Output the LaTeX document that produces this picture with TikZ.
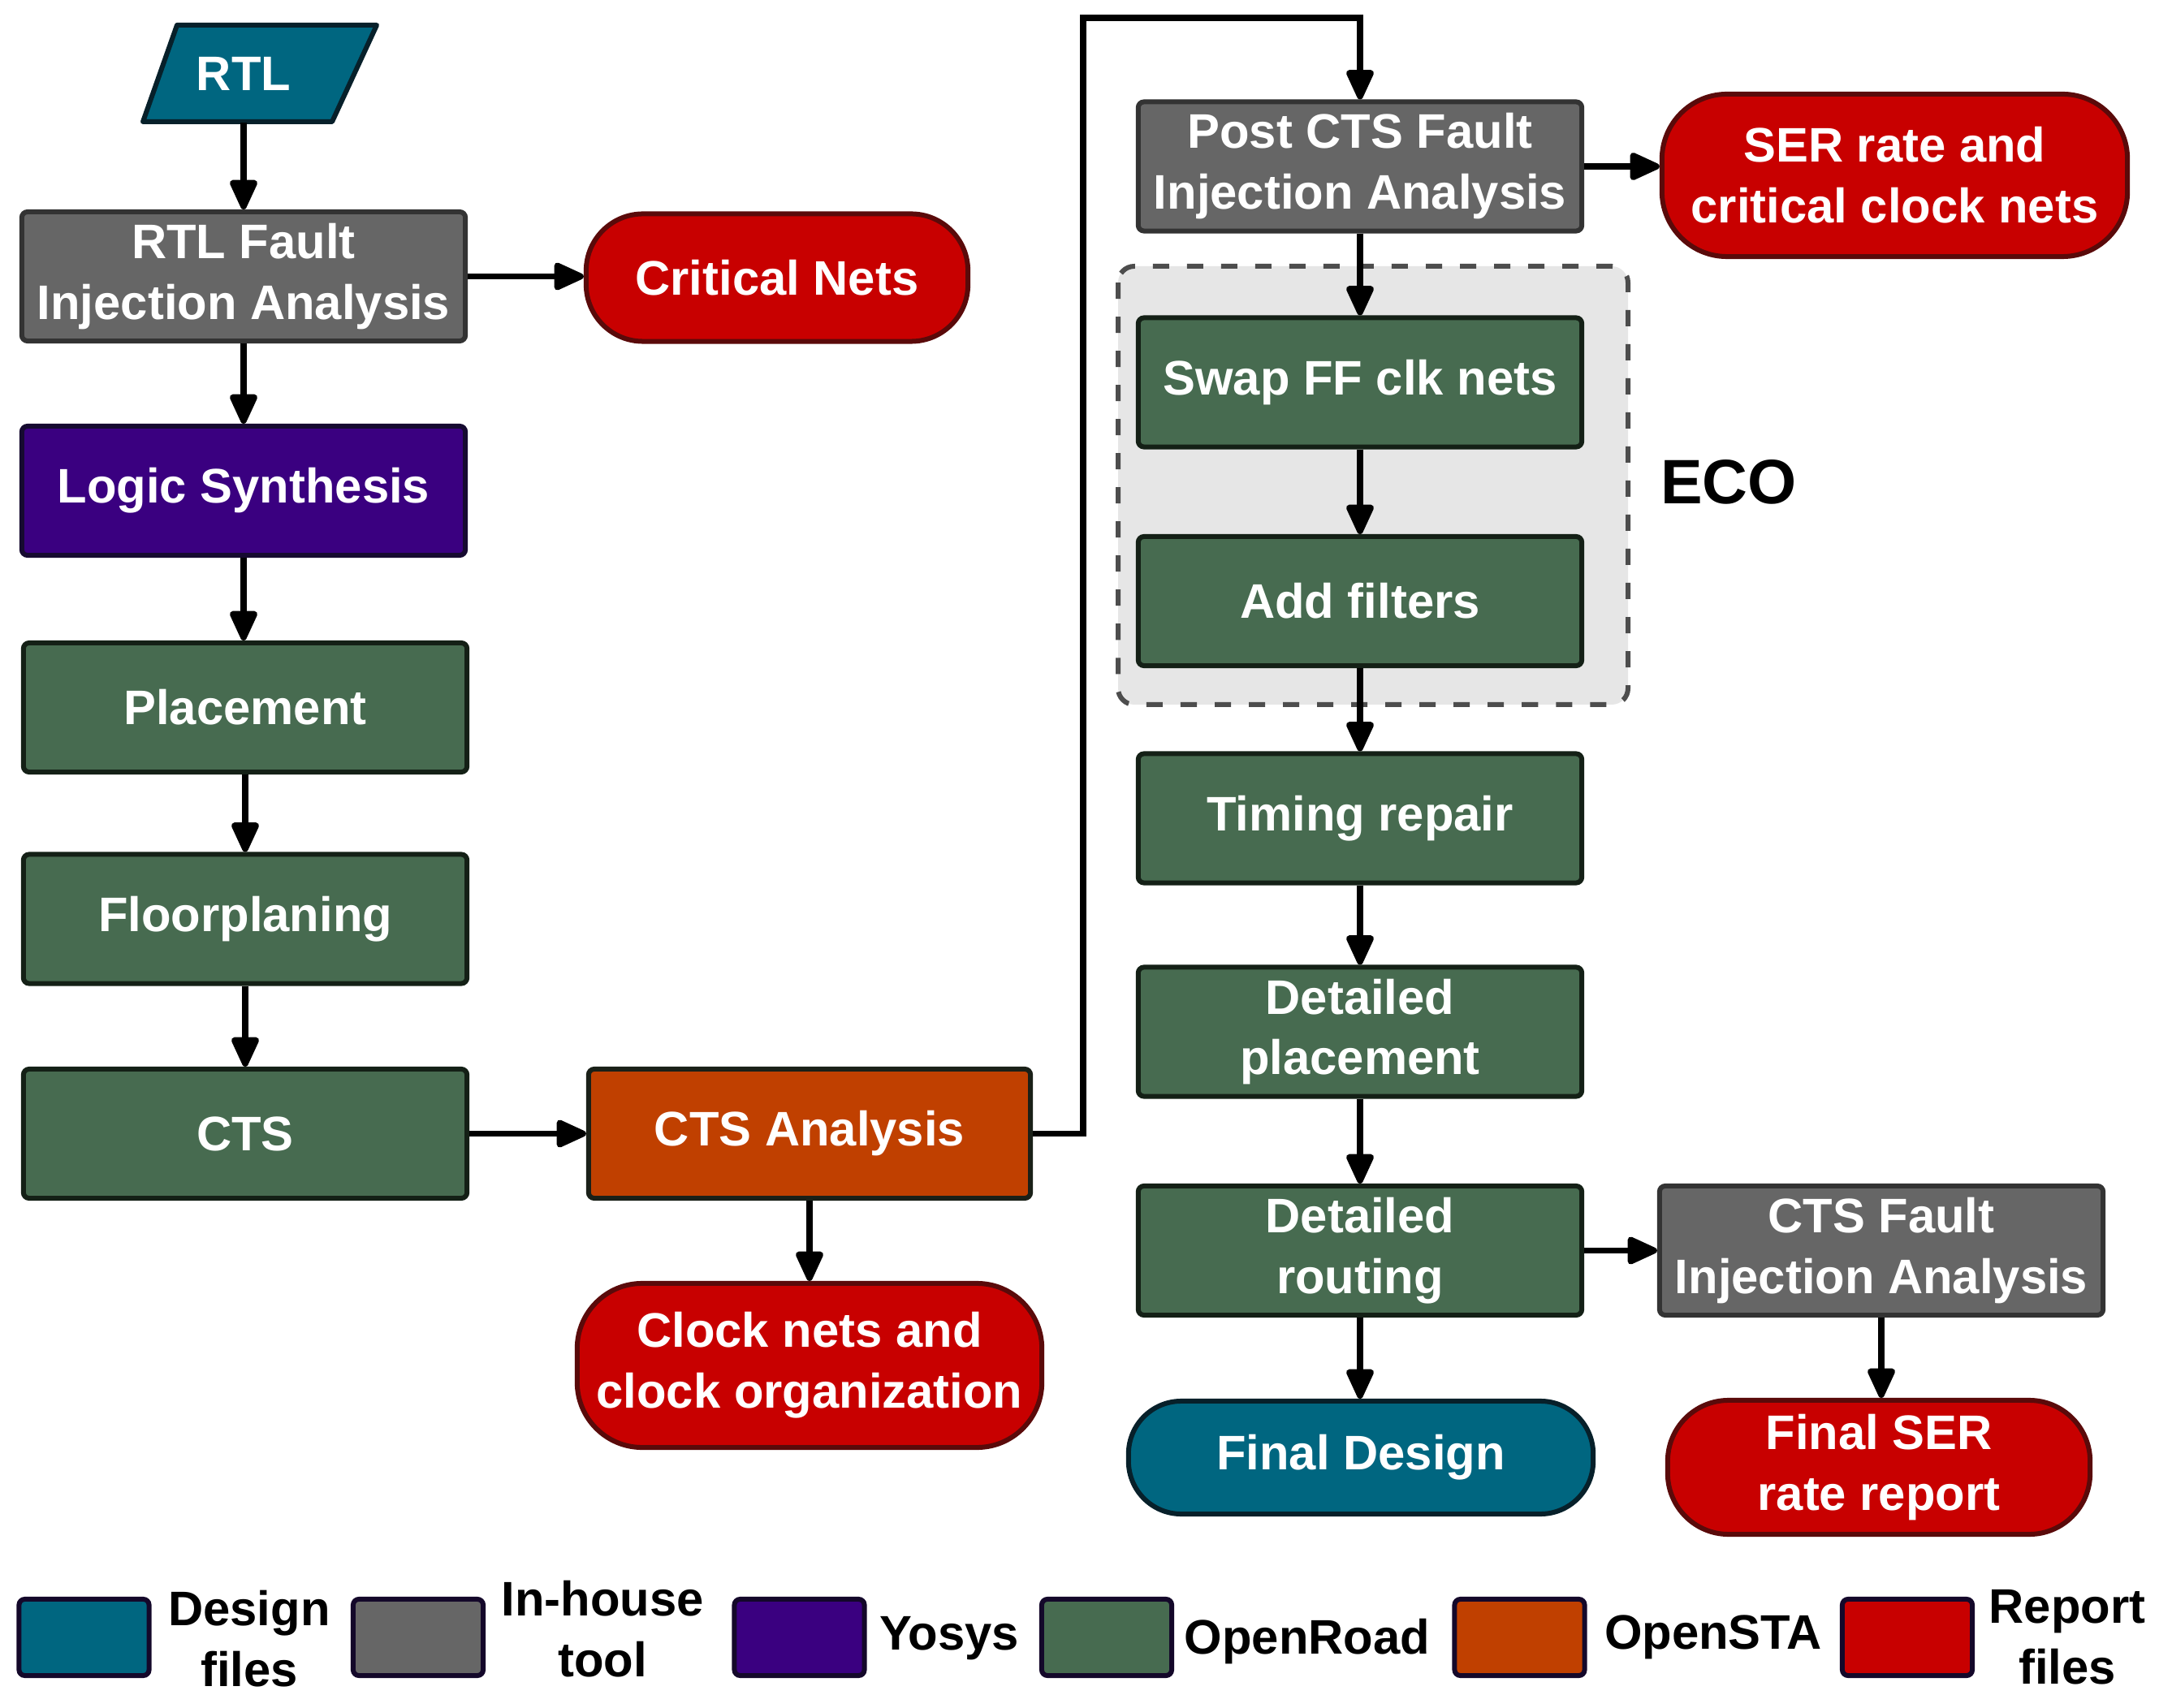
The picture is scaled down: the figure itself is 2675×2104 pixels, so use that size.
\documentclass[tikz,border=0pt]{standalone}
\usepackage{fontspec}
\setmainfont{Liberation Sans}
\usetikzlibrary{arrows.meta,calc}
\definecolor{cteal}{HTML}{006680}
\definecolor{ctealb}{HTML}{07202A}
\definecolor{cgray}{HTML}{666666}
\definecolor{cgrayb}{HTML}{333333}
\definecolor{cpurp}{HTML}{3A0080}
\definecolor{cpurpb}{HTML}{160A30}
\definecolor{cgreen}{HTML}{476B50}
\definecolor{cgreenb}{HTML}{142016}
\definecolor{corange}{HTML}{C04000}
\definecolor{corangeb}{HTML}{1A2018}
\definecolor{cred}{HTML}{C80000}
\definecolor{credb}{HTML}{5A0A0A}
\definecolor{cecobg}{HTML}{E6E6E6}
\definecolor{cecob}{HTML}{4D4D4D}
\definecolor{clegb}{HTML}{14082A}
\begin{document}
\begin{tikzpicture}[x=0.01cm,y=-0.01cm,
  txt/.style={text=white,font=\bfseries\fontsize{17}{21.3}\selectfont,align=center,inner sep=0pt},
  box/.style={txt,draw,line width=0.06cm,rounded corners=2pt,minimum width=5.46cm,minimum height=1.59cm},
  gbox/.style={box,fill=cgray,draw=cgrayb},
  grbox/.style={box,fill=cgreen,draw=cgreenb},
  term/.style={txt,draw,line width=0.06cm,rounded corners=#1},
  rterm/.style={term=#1,fill=cred,draw=credb},
  arr/.style={line width=0.075cm,-{Triangle[length=0.42cm,width=0.36cm,round]}},
  legbox/.style={draw=clegb,line width=0.06cm,rounded corners=2pt,minimum width=1.6cm,minimum height=0.94cm,inner sep=0pt},
  legtxt/.style={text=black,font=\bfseries\fontsize{17}{21.3}\selectfont,align=center,inner sep=0pt}
]
\useasboundingbox (0,0) rectangle (2675,2104);

% ECO background
\draw[fill=cecobg,draw=cecob,line width=0.06cm,dash pattern=on 0.2cm off 0.22cm,rounded corners=0.2cm] (1377,328) rectangle (2005,868);
\node[text=black,font=\bfseries\fontsize{22}{26}\selectfont,inner sep=0pt] (eco) at (2129,594) {ECO};

% RTL parallelogram
\draw[fill=cteal,draw=ctealb,line width=0.06cm,line join=round] (218,31) -- (464,31) -- (409,150) -- (176,150) -- cycle;
\node[txt,minimum width=2cm,minimum height=1.19cm] (rtl) at (300,90.5) {RTL};

% Left column
\node[gbox] (rtlfia) at (300,340.5) {RTL Fault\\Injection Analysis};
\node[rterm=0.7cm,minimum width=4.7cm,minimum height=1.57cm] (crit) at (957,342) {Critical Nets};
\node[box,fill=cpurp,draw=cpurpb] (logic) at (300,604.5) {Logic Synthesis};
\node[grbox] (place) at (302,871.5) {Placement};
\node[grbox] (floor) at (302,1132) {Floorplaning};
\node[grbox] (cts) at (302,1396.5) {CTS};
\node[box,fill=corange,draw=corangeb,minimum width=5.44cm] (ctsa) at (997,1396.5) {CTS Analysis};
\node[rterm=0.8cm,minimum width=5.72cm,minimum height=2.02cm] (clock) at (997,1682) {Clock nets and\\clock organization};

% Right column
\node[gbox] (post) at (1675,205) {Post CTS Fault\\Injection Analysis};
\node[rterm=0.8cm,minimum width=5.73cm,minimum height=2.0cm] (ser) at (2333.5,216) {SER rate and\\critical clock nets};
\node[grbox] (swap) at (1675,471) {Swap FF clk nets};
\node[grbox] (add) at (1675,740.5) {Add filters};
\node[grbox] (timing) at (1675,1008) {Timing repair};
\node[grbox] (dplace) at (1675,1271) {Detailed\\placement};
\node[grbox] (droute) at (1675,1540.5) {Detailed\\routing};
\node[gbox] (ctsfia) at (2317,1540.5) {CTS Fault\\Injection Analysis};
\node[term=0.65cm,fill=cteal,draw=ctealb,minimum width=5.72cm,minimum height=1.39cm] (final) at (1676,1795.5) {Final Design};
\node[rterm=0.75cm,minimum width=5.2cm,minimum height=1.65cm] (fser) at (2314,1807.5) {Final SER\\rate report};

% Connectors
\draw[arr] (rtl.south) -- (rtlfia.north);
\draw[arr] (rtlfia.east) -- (rtlfia.east -| crit.west);
\draw[arr] (rtlfia.south) -- (logic.north);
\draw[arr] (logic.south) -- (logic.south |- place.north);
\draw[arr] (place.south) -- (floor.north);
\draw[arr] (floor.south) -- (cts.north);
\draw[arr] (cts.east) -- (ctsa.west);
\draw[arr] (ctsa.south) -- (clock.north);
\coordinate (turn) at (1334,22);
\draw[arr,rounded corners=0pt] (ctsa.east) -| (turn) -| (post.north);
\draw[arr] (post.east) -- (post.east -| ser.west);
\draw[arr] (post.south) -- (swap.north);
\draw[arr] (swap.south) -- (add.north);
\draw[arr] (add.south) -- (timing.north);
\draw[arr] (timing.south) -- (dplace.north);
\draw[arr] (dplace.south) -- (droute.north);
\draw[arr] (droute.east) -- (ctsfia.west);
\draw[arr] (droute.south) -- (droute.south |- final.north);
\draw[arr] (ctsfia.south) -- (ctsfia.south |- fser.north);

% Legend
\node[legbox,fill=cteal] (l1) at (103.5,2017) {};
\node[legtxt] (t1) at (307,2019) {Design\\files};
\node[legbox,fill=cgray] (l2) at (515,2017) {};
\node[legtxt] (t2) at (742,2007) {In-house\\tool};
\node[legbox,fill=cpurp] (l3) at (984.5,2017) {};
\node[legtxt] (t3) at (1169,2018) {Yosys};
\node[legbox,fill=cgreen] (l4) at (1363,2017) {};
\node[legtxt] (t4) at (1610,2022) {OpenRoad};
\node[legbox,fill=corange] (l5) at (1871.5,2017) {};
\node[legtxt] (t5) at (2110,2017) {OpenSTA};
\node[legbox,fill=cred] (l6) at (2349,2017) {};
\node[legtxt] (t6) at (2546,2017) {Report\\files};
\end{tikzpicture}
\end{document}
